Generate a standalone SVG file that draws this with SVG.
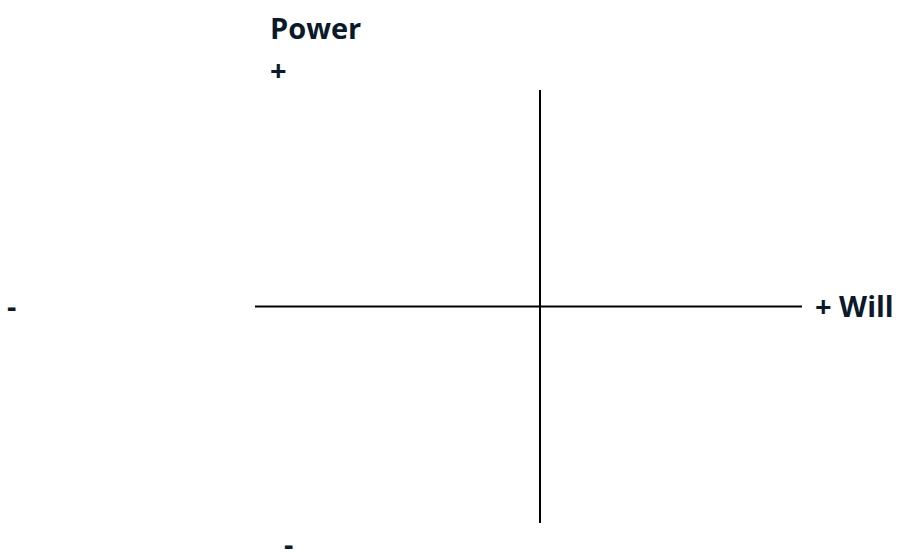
<svg xmlns="http://www.w3.org/2000/svg" width="899" height="552" viewBox="0 0 899 552">
<style>
.t{font-family:"Open Sans","Liberation Sans",sans-serif;font-weight:bold;font-size:29px;fill:#0b1a2b}
.ax{stroke:#000;stroke-width:2;fill:none}
</style>
<rect width="899" height="552" fill="#fff"/>
<g id="connectors">
<line class="ax" x1="540" y1="90" x2="540" y2="523"/>
<line class="ax" x1="255" y1="306.5" x2="802" y2="306.5"/>
</g>
<g id="label-power"><text class="t" x="270" y="39">Power</text></g>
<g id="label-power-plus"><text class="t" x="270" y="81">+</text></g>
<g id="label-will-minus"><text class="t" x="7" y="317">-</text></g>
<g id="label-will-plus"><text class="t" x="815" y="317">+ Will</text></g>
<g id="label-power-minus"><text class="t" x="284" y="555">-</text></g>
</svg>
